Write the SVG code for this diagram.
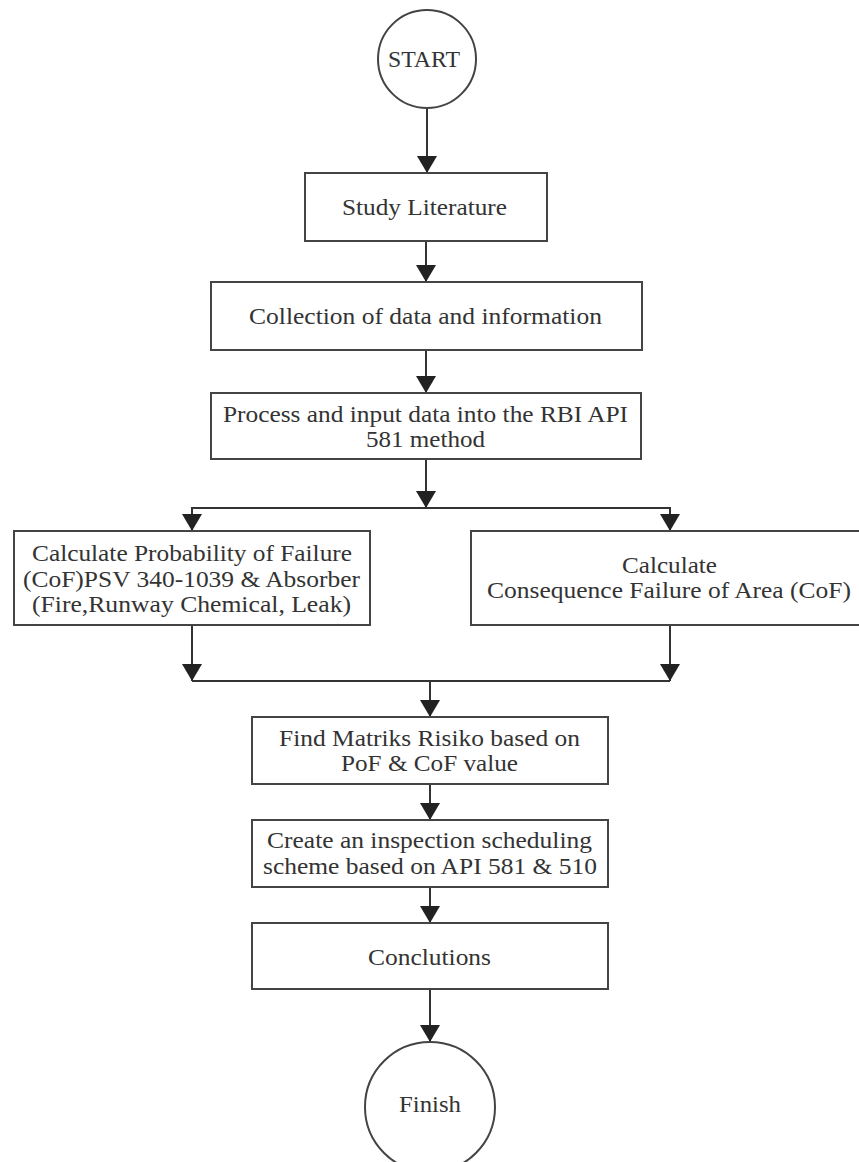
<svg xmlns="http://www.w3.org/2000/svg" width="859" height="1162" viewBox="0 0 859 1162">
<style>
.box{fill:#fff;stroke:#444;stroke-width:2}
.t{font-family:"Liberation Serif","Times New Roman",serif;font-size:23px;fill:#333;text-anchor:middle}
.c{fill:none;stroke:#333;stroke-width:2}
</style>
<defs>
<marker id="ah" markerUnits="userSpaceOnUse" markerWidth="18" markerHeight="22" viewBox="0 0 18 22" refX="17" refY="11" orient="auto">
<path d="M0,1 L0,21 L17,11 Z" fill="#222"/>
</marker>
</defs>
<rect width="859" height="1162" fill="#fff"/>
<g id="connectors">
<line class="c" x1="427" y1="108" x2="427" y2="173" marker-end="url(#ah)"/>
<line class="c" x1="426" y1="241" x2="426" y2="282" marker-end="url(#ah)"/>
<line class="c" x1="426" y1="350" x2="426" y2="393" marker-end="url(#ah)"/>
<line class="c" x1="426" y1="459" x2="426" y2="508" marker-end="url(#ah)"/>
<line class="c" x1="192" y1="508" x2="670" y2="508"/>
<line class="c" x1="192" y1="507" x2="192" y2="531" marker-end="url(#ah)"/>
<line class="c" x1="670" y1="507" x2="670" y2="531" marker-end="url(#ah)"/>
<line class="c" x1="192" y1="625" x2="192" y2="681" marker-end="url(#ah)"/>
<line class="c" x1="670" y1="625" x2="670" y2="681" marker-end="url(#ah)"/>
<line class="c" x1="192" y1="681" x2="670" y2="681"/>
<line class="c" x1="430" y1="681" x2="430" y2="717" marker-end="url(#ah)"/>
<line class="c" x1="430" y1="784" x2="430" y2="820" marker-end="url(#ah)"/>
<line class="c" x1="430" y1="887" x2="430" y2="923" marker-end="url(#ah)"/>
<line class="c" x1="430" y1="989" x2="430" y2="1042" marker-end="url(#ah)"/>
</g>
<g id="start">
<circle class="box" cx="427" cy="59" r="49"/>
<text class="t" x="424" y="67" textLength="72" lengthAdjust="spacingAndGlyphs">START</text>
</g>
<g id="study">
<rect class="box" x="305" y="173" width="242" height="68"/>
<text class="t" x="424.5" y="215" textLength="165" lengthAdjust="spacingAndGlyphs">Study Literature</text>
</g>
<g id="collection">
<rect class="box" x="211" y="282" width="431" height="68"/>
<text class="t" x="425.5" y="324" textLength="353" lengthAdjust="spacingAndGlyphs">Collection of data and information</text>
</g>
<g id="process">
<rect class="box" x="211" y="393" width="430" height="66"/>
<text class="t" x="425.5" y="422" textLength="405" lengthAdjust="spacingAndGlyphs">Process and input data into the RBI API</text>
<text class="t" x="425.5" y="447" textLength="119" lengthAdjust="spacingAndGlyphs">581 method</text>
</g>
<g id="pof">
<rect class="box" x="14" y="531" width="356" height="94"/>
<text class="t" x="192" y="561" textLength="320" lengthAdjust="spacingAndGlyphs">Calculate Probability of Failure</text>
<text class="t" x="191.5" y="587" textLength="337" lengthAdjust="spacingAndGlyphs">(CoF)PSV 340-1039 &amp; Absorber</text>
<text class="t" x="191.5" y="612" textLength="319" lengthAdjust="spacingAndGlyphs">(Fire,Runway Chemical, Leak)</text>
</g>
<g id="cof">
<rect class="box" x="471" y="531" width="398" height="94"/>
<text class="t" x="669.5" y="573" textLength="95" lengthAdjust="spacingAndGlyphs">Calculate</text>
<text class="t" x="669" y="598" textLength="364" lengthAdjust="spacingAndGlyphs">Consequence Failure of Area (CoF)</text>
</g>
<g id="matrix">
<rect class="box" x="252" y="717" width="356" height="67"/>
<text class="t" x="429.5" y="746" textLength="301" lengthAdjust="spacingAndGlyphs">Find Matriks Risiko based on</text>
<text class="t" x="429.5" y="771" textLength="177" lengthAdjust="spacingAndGlyphs">PoF &amp; CoF value</text>
</g>
<g id="schedule">
<rect class="box" x="252" y="820" width="356" height="67"/>
<text class="t" x="429.5" y="848" textLength="325" lengthAdjust="spacingAndGlyphs">Create an inspection scheduling</text>
<text class="t" x="430" y="874" textLength="334" lengthAdjust="spacingAndGlyphs">scheme based on API 581 &amp; 510</text>
</g>
<g id="conclusions">
<rect class="box" x="252" y="923" width="356" height="66"/>
<text class="t" x="429.5" y="965" textLength="123" lengthAdjust="spacingAndGlyphs">Conclutions</text>
</g>
<g id="finish">
<circle class="box" cx="430" cy="1107" r="65"/>
<text class="t" x="430" y="1112" textLength="62" lengthAdjust="spacingAndGlyphs">Finish</text>
</g>
</svg>
